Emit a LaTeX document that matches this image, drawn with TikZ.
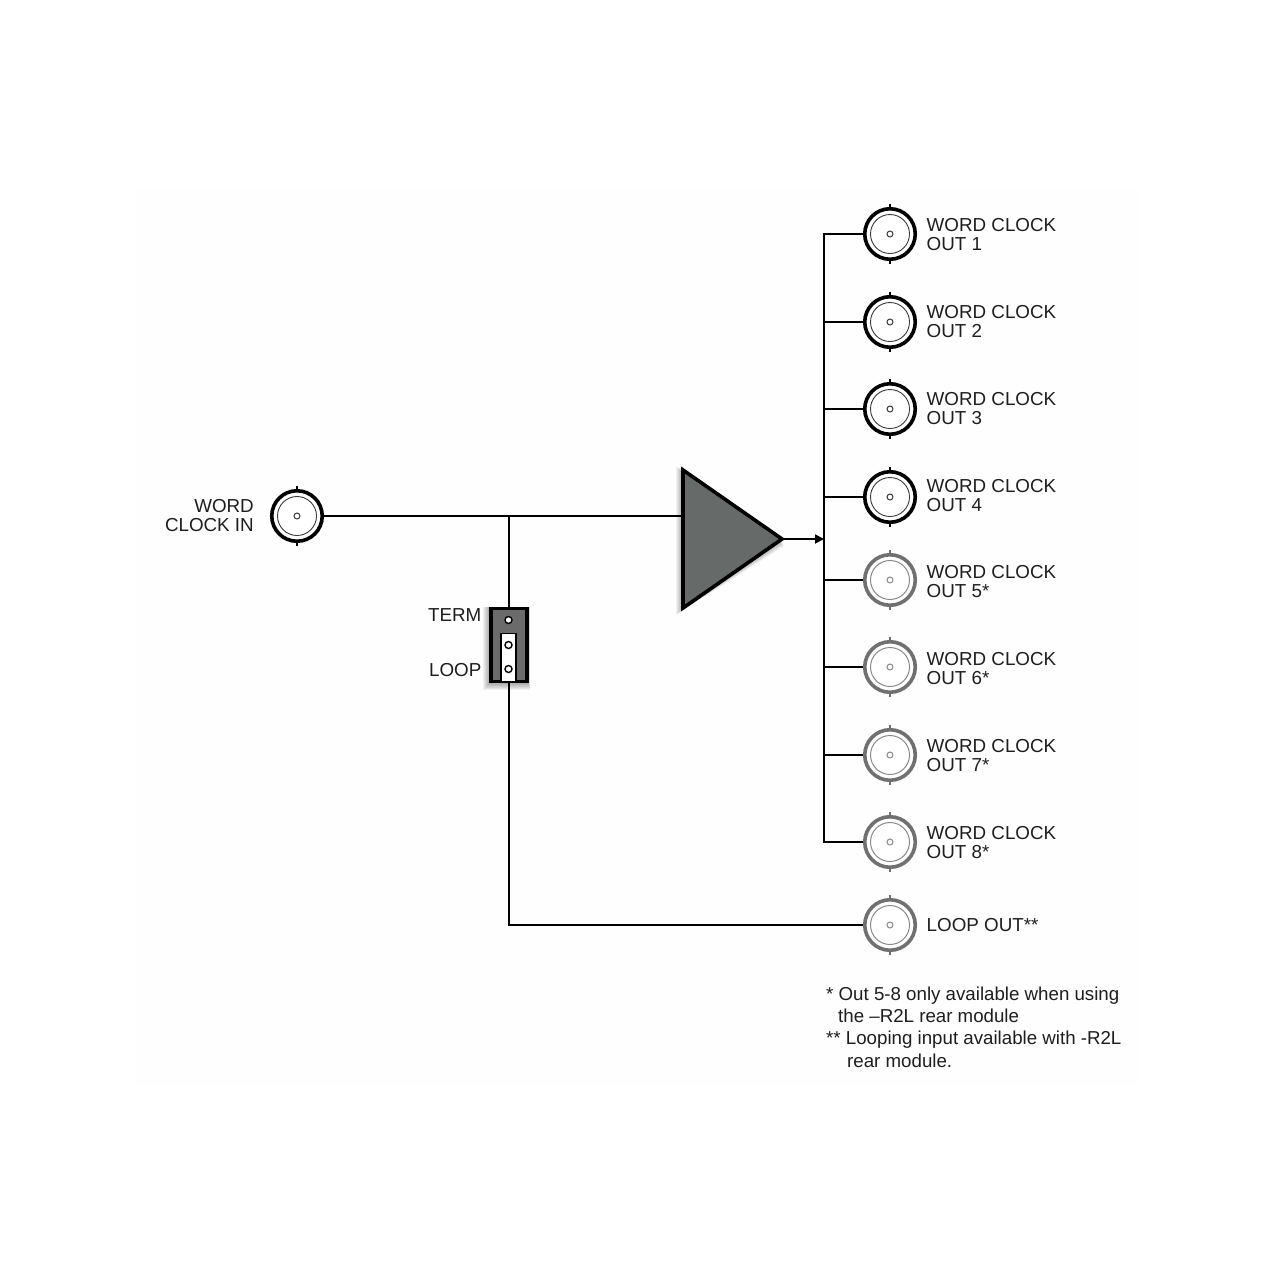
\documentclass[tikz,border=0pt]{standalone}
\usepackage{fontspec}
\setmainfont{Liberation Sans}
\usetikzlibrary{arrows.meta}
\definecolor{panel}{HTML}{FEFEFE}
\definecolor{bodygrey}{HTML}{666A68}
\definecolor{boxgrey}{HTML}{6B6B6B}
\definecolor{ringgrey}{HTML}{707070}
\definecolor{thingrey}{HTML}{8A8A8A}
\definecolor{thindark}{HTML}{3A3A3A}
\definecolor{inktext}{HTML}{1E1E1E}
\tikzset{
  wire/.style={line width=1.8pt,black,line join=miter},
  ringnode/.style={circle,inner sep=0pt,minimum size=50.5pt,line width=3.6pt,draw=#1,fill=white},
  pin/.style={circle,draw=black,fill=white,line width=1.4pt,minimum size=7pt,inner sep=0pt},
  label text/.style={font=\fontsize{18.8}{19}\selectfont,text=inktext,inner sep=0pt},
  softshadow/.style={fill=black,opacity=0.05,draw=none}
}
\newcommand{\bncjack}[3]{%
  \draw[black,line width=1.8pt] (#2,#3-30) -- (#2,#3-26) (#2,#3+26) -- (#2,#3+30);
  \node[ringnode=black] (#1) at (#2,#3) {};
  \draw[thindark,line width=0.9pt] (#2,#3) circle[radius=19.5];
  \draw[thindark,line width=1pt] (#2,#3) circle[radius=3];
}
\newcommand{\greyjack}[3]{%
  \draw[ringgrey,line width=1.8pt] (#2,#3-30) -- (#2,#3-26) (#2,#3+26) -- (#2,#3+30);
  \node[ringnode=ringgrey] (#1) at (#2,#3) {};
  \draw[thingrey,line width=1pt] (#2,#3) circle[radius=19.5];
  \draw[thingrey,line width=1pt] (#2,#3) circle[radius=3];
}
\begin{document}
\begin{tikzpicture}[x=1pt,y=-1pt]
\useasboundingbox (0,0) rectangle (1280,1280);
\fill[white] (0,0) rectangle (1280,1280);
\fill[panel] (135,190) rectangle (1140,1085);

% jacks
\bncjack{wcin}{297}{516}
\bncjack{out1}{890}{234}
\bncjack{out2}{890}{322}
\bncjack{out3}{890}{409}
\bncjack{out4}{890}{497}
\greyjack{out5}{890}{580}
\greyjack{out6}{890}{667}
\greyjack{out7}{890}{755}
\greyjack{out8}{890}{842}
\greyjack{loopout}{890}{925}

% shadows
\foreach \d in {1,2,...,7}{
  \fill[softshadow] (683-\d,470-\d*0.5) -- (782+\d*0.3,539+\d) -- (683-\d,608+\d) -- cycle;
  \fill[softshadow] (490-\d,607) rectangle (528+\d*0.3,683+\d);
}

% amplifier
\node[inner sep=0pt,minimum size=0pt] (ampin) at (683,516) {};
\node[inner sep=0pt,minimum size=0pt] (ampout) at (782,539) {};
\draw[fill=bodygrey,draw=black,line width=3.6pt,line join=miter] (683,470) -- (782,539) -- (683,608) -- cycle;

% jumper block
\node[draw=black,fill=boxgrey,line width=3.6pt,minimum width=36pt,minimum height=73pt,inner sep=0pt] (jumper) at (509,645) {};
\node[draw=black,fill=white,line width=1.3pt,minimum width=15pt,minimum height=48pt,inner sep=0pt] (link) at (508.5,657.5) {};
\node[pin] (pinA) at (508.5,620) {};
\node[pin] (pinB) at (508.5,645) {};
\node[pin] (pinC) at (508.5,669) {};

% wires
\coordinate (busx) at (824,539);
\coordinate (tee) at (509,516);
\draw[wire] (wcin.east) -- (ampin);
\draw[wire] (tee) -- (jumper.north);
\draw[wire] (jumper.south) |- (loopout.west);
\draw[wire] (out1.west) -- (out1.west -| busx) -- (out8.west -| busx) -- (out8.west);
\foreach \n in {out2,out3,out4,out5,out6,out7}{
  \draw[wire] (\n.west) -- (\n.west -| busx);
}
\draw[wire,-{Triangle[length=9pt,width=9pt]}] (ampout) -- (busx);

% labels
\node[label text,align=right,anchor=east] (lblin) at (254,516) {WORD\\CLOCK IN};
\node[label text,anchor=east] (lblterm) at (481.5,615.5) {TERM};
\node[label text,anchor=east] (lblloop) at (481.5,670.5) {LOOP};
\foreach \y/\t in {235/OUT 1,322/OUT 2,408.5/OUT 3,495.5/OUT 4,582/OUT 5*,669/OUT 6*,756/OUT 7*,842.5/OUT 8*}{
  \node[label text,align=left,anchor=west] at (926.5,\y) {WORD CLOCK\\\t};
}
\node[label text,anchor=west] (lblloopout) at (926.5,925) {LOOP OUT**};
\node[label text,font=\fontsize{18.7}{22.3}\selectfont,align=left,anchor=north west] (notes) at (826,986.5) {* Out 5-8 only available when using\\
\hspace*{12pt}the –R2L rear module\\
** Looping input available with -R2L\\
\hspace*{21pt}rear module.};
\end{tikzpicture}
\end{document}
